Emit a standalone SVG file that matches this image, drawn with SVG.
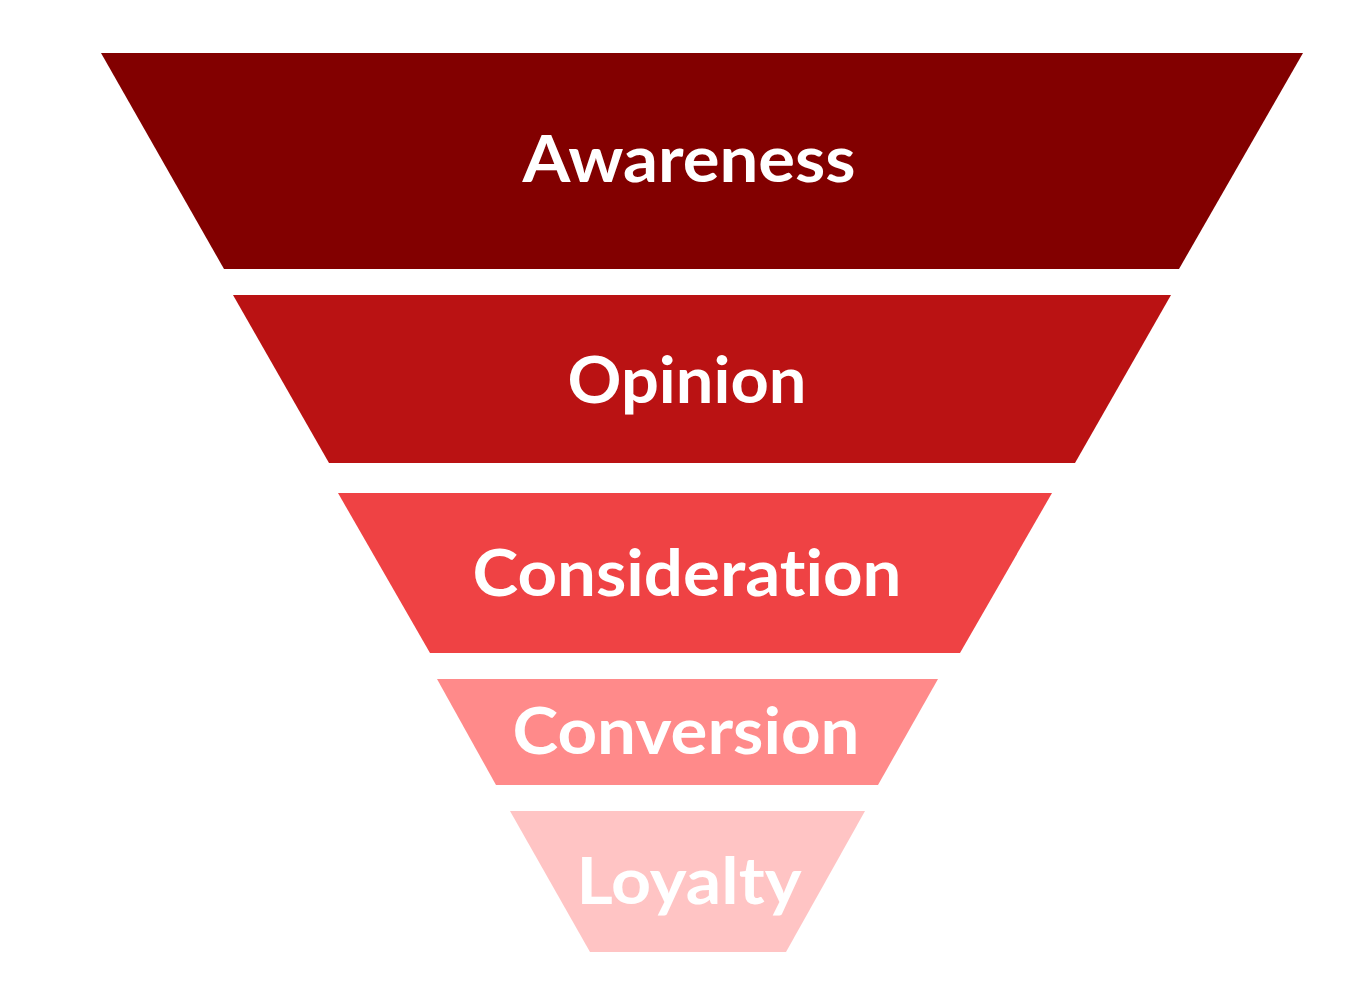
<svg xmlns="http://www.w3.org/2000/svg" width="1366" height="1000" viewBox="0 0 1366 1000">
<style>
.lbl{font-family:Lato,"Open Sans","Liberation Sans",sans-serif;font-weight:bold;font-size:65px;fill:#ffffff;text-anchor:middle;font-variant-ligatures:none;font-feature-settings:"liga" 0,"clig" 0}
</style>
<rect x="0" y="0" width="1366" height="1000" fill="#ffffff"/>
<g id="awareness">
<polygon points="101,53 1303,53 1179,269 224,269" fill="#820000"/>
<text class="lbl" x="689" y="182" textLength="333" lengthAdjust="spacingAndGlyphs">Awareness</text>
</g>
<g id="opinion">
<polygon points="233,295 1171,295 1075,463 329,463" fill="#BA1213"/>
<text class="lbl" x="687" y="403" textLength="239" lengthAdjust="spacingAndGlyphs">Opinion</text>
</g>
<g id="consideration">
<polygon points="338,493 1052,493 960,653 430,653" fill="#EF4244"/>
<text class="lbl" x="687" y="596" textLength="429" lengthAdjust="spacingAndGlyphs">Consideration</text>
</g>
<g id="conversion">
<polygon points="437,679 938,679 878,785 496,785" fill="#FF8A8A"/>
<text class="lbl" x="686" y="754" textLength="347" lengthAdjust="spacingAndGlyphs">Conversion</text>
</g>
<g id="loyalty">
<polygon points="510,811 865,811 786,952 590,952" fill="#FFC4C4"/>
<text class="lbl" x="689" y="904" textLength="225" lengthAdjust="spacingAndGlyphs">Loyalty</text>
</g>
<g id="connectors"></g>
</svg>
